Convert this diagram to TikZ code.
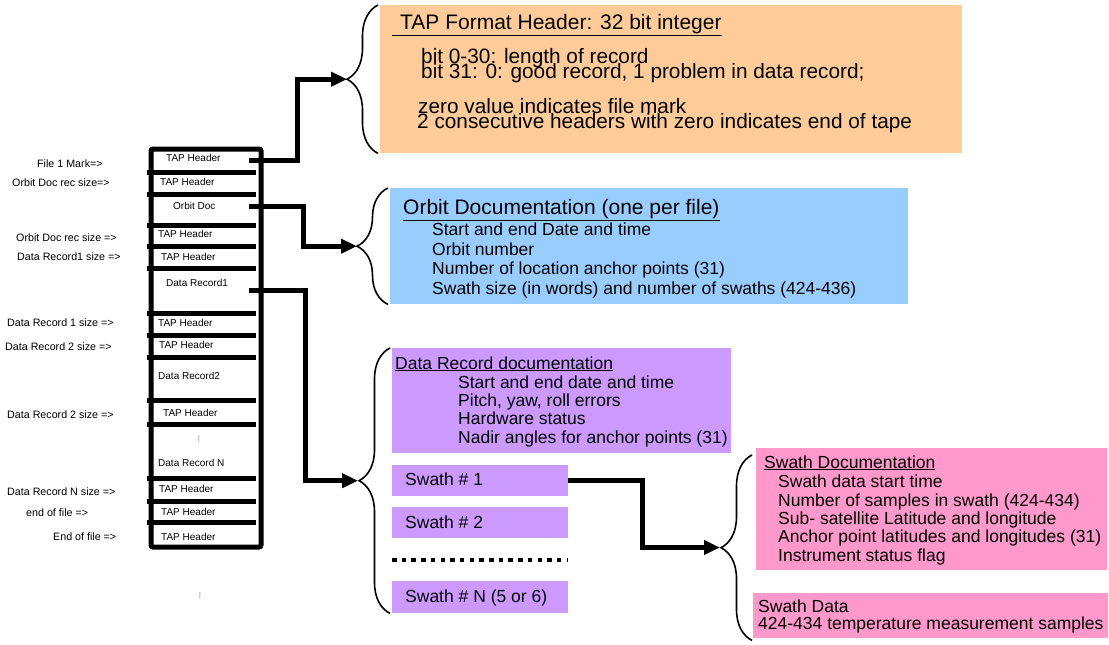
\documentclass[tikz,border=0pt]{standalone}
\usepackage{fontspec}
\setmainfont{Liberation Sans}
\usetikzlibrary{arrows.meta,decorations.pathreplacing,calc}
\definecolor{peach}{HTML}{FFCC99}
\definecolor{skyb}{HTML}{99CCFF}
\definecolor{lilac}{HTML}{CC99FF}
\definecolor{rosy}{HTML}{FF99CC}
\begin{document}
\begin{tikzpicture}[x=1pt,y=-1pt,
  tapeline/.style={line width=5pt},
  conn/.style={line width=5pt,-{Triangle[length=16pt,width=14pt]}},
  brc/.style={line width=1.6pt,decorate,decoration={brace,amplitude=31pt}},
  panel/.style={inner sep=0pt,anchor=north west,draw=none},
  lbl/.style={font=\fontsize{10.7}{12}\selectfont,inner sep=0pt,anchor=base west},
  celltxt/.style={font=\fontsize{10}{12}\selectfont,inner sep=0pt,anchor=base west},
  ttl/.style={font=\fontsize{21}{24}\selectfont,inner sep=0pt,anchor=base west},
  orgtxt/.style={font=\fontsize{20.8}{24}\selectfont,inner sep=0pt,anchor=base west},
  bodytxt/.style={font=\fontsize{17.5}{21}\selectfont,inner sep=0pt,anchor=base west},
  ticktxt/.style={font=\fontsize{7}{8}\selectfont,inner sep=0pt,text=gray},
]
\useasboundingbox (0,0) rectangle (1109,645);

% ---------- panels ----------
\node[panel,fill=peach,minimum width=582pt,minimum height=148pt] (tapfmt) at (380,5) {};
\node[panel,fill=skyb,minimum width=518pt,minimum height=116pt] (orbdoc) at (390,188) {};
\node[panel,fill=lilac,minimum width=339pt,minimum height=105pt] (drdoc) at (392,348) {};
\node[panel,fill=lilac,minimum width=176pt,minimum height=31pt] (sw1) at (392,465) {};
\node[panel,fill=lilac,minimum width=176pt,minimum height=31pt] (sw2) at (392,507) {};
\node[panel,fill=lilac,minimum width=176pt,minimum height=32pt] (swn) at (392,581) {};
\node[panel,fill=rosy,minimum width=351pt,minimum height=122pt] (swdoc) at (756,448) {};
\node[panel,fill=rosy,minimum width=355pt,minimum height=45pt] (swdata) at (753,593) {};

% dotted separator between swaths
\draw[line width=4pt,dash pattern=on 4.5pt off 5.2pt] (392,560) -- (568,560);

% ---------- tape column ----------
\draw[tapeline,rounded corners=2pt] (151,149) rectangle (261,547);
\foreach \yy in {172,194,225,246,268,313,335,357,400,424,478,501,522}
  \draw[tapeline] (147,\yy) -- (256,\yy);

\node[celltxt] (c1) at (166,161) {TAP Header};
\node[celltxt] (c2) at (160,185) {TAP Header};
\node[celltxt] (c3) at (173,209) {Orbit Doc};
\node[celltxt] (c4) at (158,237) {TAP Header};
\node[celltxt] (c5) at (161,260) {TAP Header};
\node[celltxt] (c6) at (166,286) {Data Record1};
\node[celltxt] (c7) at (158,326) {TAP Header};
\node[celltxt] (c8) at (159,348) {TAP Header};
\node[celltxt] (c9) at (158,379) {Data Record2};
\node[celltxt] (c10) at (163,416) {TAP Header};
\node[ticktxt] (tk1) at (199,439) {|};
\node[celltxt] (c11) at (158,466) {Data Record N};
\node[celltxt] (c12) at (159,492) {TAP Header};
\node[celltxt] (c13) at (161,515) {TAP Header};
\node[celltxt] (c14) at (161,540) {TAP Header};
\node[ticktxt] (tk2) at (200,596) {|};

% left labels
\node[lbl] (l1) at (37,167) {File 1 Mark=>};
\node[lbl] (l2) at (12,186) {Orbit Doc rec size=>};
\node[lbl] (l3) at (16,241) {Orbit Doc rec size =>};
\node[lbl] (l4) at (17,260) {Data Record1 size =>};
\node[lbl] (l5) at (7,326) {Data Record 1 size =>};
\node[lbl] (l6) at (5,350) {Data Record 2 size =>};
\node[lbl] (l7) at (7,418) {Data Record 2 size =>};
\node[lbl] (l8) at (7,495) {Data Record N size =>};
\node[lbl] (l9) at (26,516) {end of file =>};
\node[lbl] (l10) at (53,540) {End of file =>};

% ---------- panel texts ----------
\node[ttl] (tapttl) at (392,29) {\underline{\hspace{8pt}TAP Format Header: 32 bit integer}};
\node[orgtxt] (o1) at (421,63) {bit 0-30: length of record};
\node[orgtxt] (o2) at (421,78) {bit 31: 0: good record, 1 problem in data record;};
\node[orgtxt] (o3) at (418,113) {zero value indicates file mark};
\node[orgtxt] (o4) at (417,128) {2 consecutive headers with zero indicates end of tape};

\node[ttl] (orbttl) at (403,214) {\underline{Orbit Documentation (one per file)}};
\node[bodytxt] (b1) at (432,235) {Start and end Date and time};
\node[bodytxt] (b2) at (432,255) {Orbit number};
\node[bodytxt] (b3) at (432,274) {Number of location anchor points (31)};
\node[bodytxt] (b4) at (432,294) {Swath size (in words) and number of swaths (424-436)};

\node[bodytxt] (drttl) at (395,369) {\underline{Data Record documentation}};
\node[bodytxt] (d1) at (458,388) {Start and end date and time};
\node[bodytxt] (d2) at (458,406) {Pitch, yaw, roll errors};
\node[bodytxt] (d3) at (458,424) {Hardware status};
\node[bodytxt] (d4) at (458,443) {Nadir angles for anchor points (31)};

\node[bodytxt] (s1t) at (405,485) {Swath \# 1};
\node[bodytxt] (s2t) at (405,528) {Swath \# 2};
\node[bodytxt] (snt) at (405,602) {Swath \# N (5 or 6)};

\node[bodytxt] (sdttl) at (764,468) {\underline{Swath Documentation}};
\node[bodytxt] (p1) at (778,487) {Swath data start time};
\node[bodytxt] (p2) at (778,506) {Number of samples in swath (424-434)};
\node[bodytxt] (p3) at (778,524) {Sub- satellite Latitude and longitude};
\node[bodytxt] (p4) at (778,542) {Anchor point latitudes and longitudes (31)};
\node[bodytxt] (p5) at (778,561) {Instrument status flag};

\node[bodytxt] (q1) at (758,612) {Swath Data};
\node[bodytxt] (q2) at (758,629) {424-434 temperature measurement samples};

% ---------- braces ----------
\draw[brc] ([xshift=-2pt]tapfmt.south west) -- ([xshift=-2pt]tapfmt.north west);
\draw[brc] ([xshift=-2pt]orbdoc.south west) -- ([xshift=-2pt]orbdoc.north west);
\draw[brc] ([xshift=-2pt]swn.south west) -- ([xshift=-2pt]drdoc.north west);
\draw[brc] ([xshift=-1pt,yshift=-2pt]swdata.south west) -- ([xshift=-4pt,yshift=-7pt]swdoc.north west);

% brace tips and stub starts
\coordinate (t1) at ([xshift=-33pt]tapfmt.west);
\coordinate (t2) at ([xshift=-33pt]orbdoc.west);
\coordinate (t3) at ($($(swn.south west)!0.5!(drdoc.north west)$)+(-34,0)$);
\coordinate (t4) at (720,547.5);
\coordinate (st1) at (249,160);
\coordinate (st2) at (249,206);
\coordinate (st3) at (249,290);

% ---------- connectors ----------
\draw[conn] (st1) -| ([xshift=-50pt]t1) -- (t1);
\draw[conn] (st2) -| ([xshift=-54pt]t2) -- (t2);
\draw[conn] (st3) -| ([xshift=-53pt]t3) -- (t3);
\draw[conn] (sw1.east) -| ([xshift=-78pt]t4) -- (t4);
\end{tikzpicture}
\end{document}
